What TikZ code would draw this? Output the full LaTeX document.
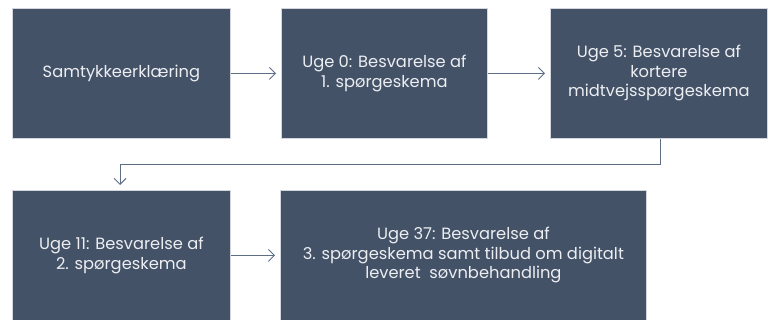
\documentclass[tikz,border=0pt]{standalone}
\usepackage{fontspec}
\setmainfont{Poppins}
\usetikzlibrary{arrows.meta}
\definecolor{boxfill}{HTML}{445268}
\definecolor{boxline}{HTML}{D3D7DD}
\definecolor{txt}{HTML}{ECEEF1}
\definecolor{conn}{HTML}{5E6E85}
\tikzset{
  stepbox/.style={draw=boxline, line width=0.8pt, fill=boxfill, text=txt, anchor=north west,
    align=center, inner sep=2pt, font=\fontsize{16.3pt}{19.5pt}\selectfont},
  conn/.style={draw=conn, line width=0.9pt, -{Straight Barb[length=6pt,width=12pt]}, shorten >=5pt}
}
\begin{document}
\begin{tikzpicture}[x=1pt,y=-1pt]
\useasboundingbox (0,0) rectangle (773,320);
\node[stepbox, minimum width=218pt, minimum height=130pt] (b1) at (12,8) {Samtykkeerklæring};
\node[stepbox, minimum width=206pt, minimum height=130pt] (b2) at (281,8) {Uge 0: Besvarelse af\\1. spørgeskema};
\node[stepbox, minimum width=217pt, minimum height=130pt] (b3) at (550,8) {Uge 5: Besvarelse af\\kortere\\midtvejsspørgeskema};
\node[stepbox, minimum width=218pt, minimum height=130pt] (b4) at (12,190) {Uge 11: Besvarelse af\\2. spørgeskema};
\node[stepbox, minimum width=366pt, minimum height=130pt] (b5) at (280,190) {Uge 37: Besvarelse af\\3. spørgeskema samt tilbud om digitalt\\leveret\ \ søvnbehandling};
\coordinate (c1) at (660,164);
\coordinate (c2) at (120,164);
\draw[conn] (b1.east) -- (b2.west);
\draw[conn] (b2.east) -- (b3.west);
\draw[conn] (b4.east) -- (b5.west |- b4.east);
\draw[conn] (b3.south -| c1) -- (c1) -- (c2) -- (c2 |- b4.north);
\end{tikzpicture}
\end{document}
